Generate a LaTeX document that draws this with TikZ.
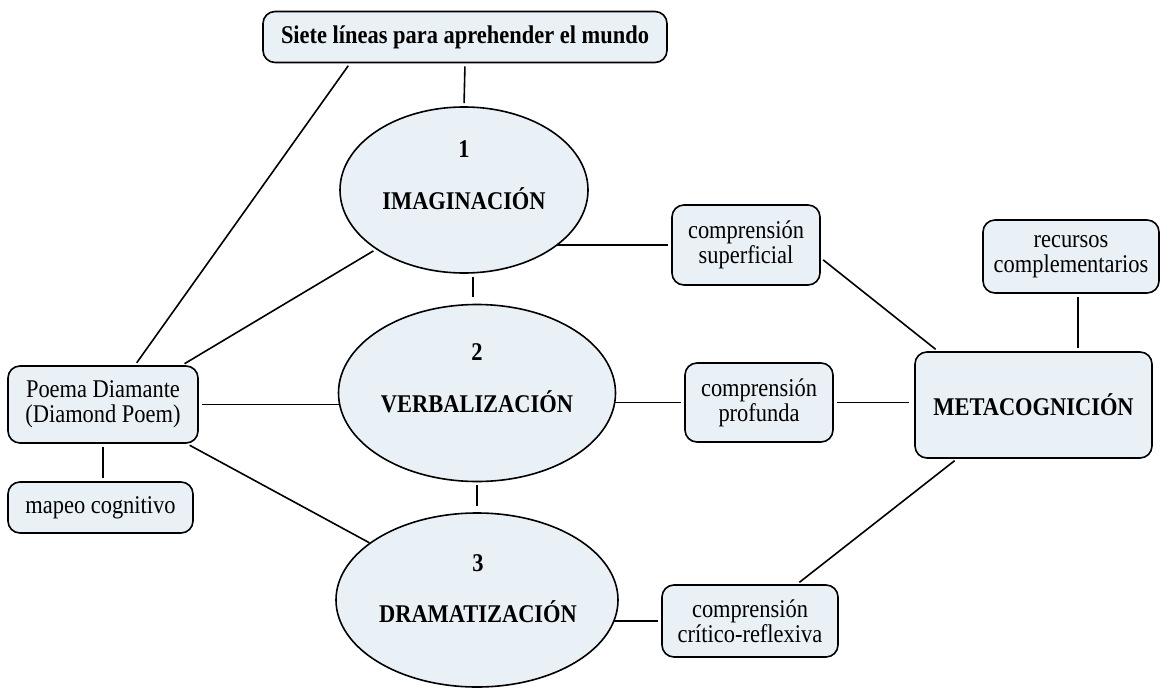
\documentclass[tikz,border=0pt]{standalone}
\usepackage{fontspec}
\setmainfont{Liberation Serif}[FakeStretch=0.88]
\usetikzlibrary{shapes.geometric}
\definecolor{cfill}{RGB}{233,241,246}
\pgfdeclarelayer{background}
\pgfsetlayers{background,main}
\tikzset{
  box/.style={draw, line width=1.6pt, rounded corners=12pt, fill=cfill, align=center, inner sep=0pt, font=\fontsize{25.5}{25}\selectfont},
  ell/.style={draw, ellipse, line width=1.6pt, fill=cfill, inner sep=0pt},
  elltext/.style={align=center, inner sep=0pt, font=\fontsize{25.5}{25}\selectfont\bfseries},
  conn/.style={line width=1.6pt, shorten <=3pt, shorten >=3pt}
}
\begin{document}
\begin{tikzpicture}[x=1pt,y=-1pt]
\useasboundingbox (0,0) rectangle (1161,688);
% nodes
\node[box, font=\fontsize{25.5}{25}\selectfont\bfseries, minimum width=404pt, minimum height=51pt] (top) at (465,37) {Siete líneas para aprehender el mundo};
\node[ell, minimum width=248pt, minimum height=166pt] (e1) at (464,190) {};
\node[elltext] (t1) at (464,175.5) {1\\[27pt]IMAGINACIÓN};
\node[ell, minimum width=277pt, minimum height=177pt] (e2) at (477,393) {};
\node[elltext] (t2) at (477,378.5) {2\\[27pt]VERBALIZACIÓN};
\node[ell, minimum width=282pt, minimum height=174pt] (e3) at (477,600) {};
\node[elltext] (t3) at (478,589) {3\\[26pt]DRAMATIZACIÓN};
\node[box, minimum width=190pt, minimum height=77pt] (poema) at (103,404.5) {Poema Diamante\\(Diamond Poem)};
\node[box, minimum width=185pt, minimum height=51pt] (mapeo) at (100.5,507.5) {mapeo cognitivo};
\node[box, minimum width=148pt, minimum height=80pt] (sup) at (746,245) {comprensión\\superficial};
\node[box, minimum width=148pt, minimum height=79pt] (prof) at (759,402.5) {comprensión\\profunda};
\node[box, font=\fontsize{25.5}{25}\selectfont\bfseries, minimum width=237pt, minimum height=106pt] (meta) at (1033.5,405) {METACOGNICIÓN};
\node[box, minimum width=176pt, minimum height=73pt] (rec) at (1071,256.5) {recursos\\complementarios};
\node[box, minimum width=176pt, minimum height=72pt] (crit) at (750,621) {comprensión\\crítico-reflexiva};
% connectors
\begin{pgfonlayer}{background}
\draw[conn] (top.south) -- (e1.north);
\draw[conn] ([xshift=-115pt]top.south) -- ([xshift=32pt]poema.north);
\draw[conn] ([xshift=79pt]poema.north) -- (e1.214);
\draw[conn, shorten >=0pt] (poema.east) -- (e2.center |- poema.east);
\draw[conn, shorten >=0pt] ([xshift=84pt]poema.south) -- (e3.152);
\draw[conn] (poema.south) -- (poema.south |- mapeo.north);
\draw[conn, shorten >=7pt] ([xshift=9pt]e1.south) -- ([xshift=9pt]e1.south |- e2.north);
\draw[conn, shorten >=6pt] (e2.south) -- (e2.south |- e3.north);
\draw[conn, shorten >=0pt] (sup.west) -- (e1.center |- sup.west);
\draw[conn] ([yshift=-13pt]sup.east) -- ([xshift=-95.5pt]meta.north);
\draw[conn, shorten >=0pt] (prof.west) -- (e2.center |- prof.west);
\draw[conn, shorten >=5pt] (prof.east) -- (meta.west |- prof.east);
\draw[conn] ([xshift=7pt]rec.south) -- ([xshift=7pt]rec.south |- meta.north);
\draw[conn] ([xshift=-76.5pt]meta.south) -- ([xshift=47pt]crit.north);
\draw[conn, shorten >=0pt] (crit.west) -- (e3.center |- crit.west);
\end{pgfonlayer}
\end{tikzpicture}
\end{document}
